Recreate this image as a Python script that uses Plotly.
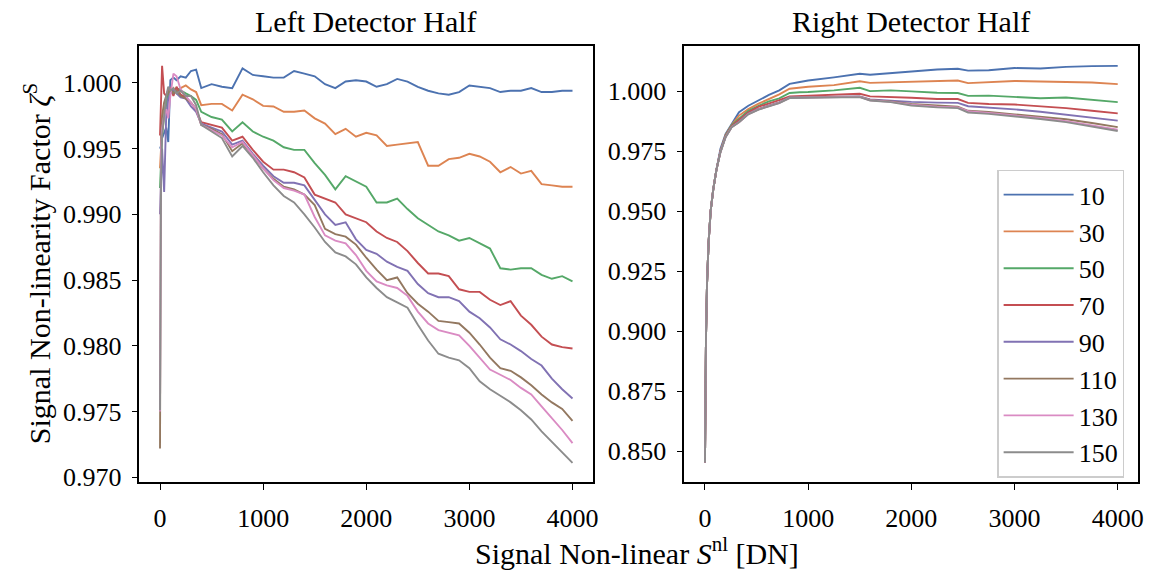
import plotly.graph_objects as go

# ---------------- data ----------------
SERIES_NAMES = ["10", "30", "50", "70", "90", "110", "130", "150"]
COLORS = ["#4C72B0", "#DD8452", "#55A868", "#C44E52", "#8172B3", "#937860", "#DA8BC3", "#8C8C8C"]

LEFT_X = [0, 10, 20, 40, 60, 80, 100, 130, 160, 200, 250, 300, 350, 400,
          500, 600, 700, 800, 900, 1000, 1100, 1200, 1300,
          1400, 1500, 1600, 1700, 1800, 1900, 2000, 2100, 2200, 2300, 2400, 2500, 2600, 2700,
          2800, 2900, 3000, 3100, 3200, 3300, 3400, 3500, 3600, 3700, 3800, 3900, 4000]

LEFT_10 = [0.9950, 0.9952, 0.9958, 0.9962, 0.9966, 0.9955, 1.0002, 1.0004, 1.0002, 1.0005, 1.0004, 1.0009, 1.0010, 0.9996,
           0.9999, 0.9997, 0.9996, 1.0011, 1.0006, 1.0005, 1.0004, 1.0004, 1.0009,
           1.0007, 1.0005, 0.9999, 0.9996, 1.0001, 1.0002, 1.0001, 0.9997, 0.9999, 1.0003, 1.0001, 0.9997, 0.9994, 0.9992,
           0.9991, 0.9993, 0.9998, 0.9997, 0.9996, 0.9993, 0.9994, 0.9994, 0.9996, 0.9993, 0.9993, 0.9994, 0.9994]
LEFT_30 = [0.9935, 0.9950, 0.9965, 0.9978, 0.9985, 0.9990, 0.9993, 0.9996, 0.9993, 0.9996, 0.9998, 0.9995, 0.9993, 0.9983,
           0.9984, 0.9984, 0.9979, 0.9991, 0.99875, 0.99825, 0.9982, 0.9978, 0.9978,
           0.9979, 0.9973, 0.9969, 0.9961, 0.9965, 0.9959, 0.9962, 0.9960, 0.9952, 0.9953, 0.9954, 0.9955, 0.9937, 0.9937,
           0.9942, 0.9943, 0.9946, 0.9944, 0.9940, 0.9932, 0.9936, 0.9931, 0.9933, 0.9923, 0.9922, 0.9921, 0.9921]
LEFT_50 = [0.9920, 0.9945, 0.9960, 0.9975, 0.9985, 0.9992, 0.9995, 0.9993, 0.9996, 0.9994, 0.9992, 0.9990, 0.9987, 0.9978,
           0.9974, 0.9972, 0.9963, 0.9970, 0.9963, 0.9959, 0.9956, 0.9951, 0.9949,
           0.9949, 0.9939, 0.9930, 0.9919, 0.9929, 0.9925, 0.9921, 0.9909, 0.9909, 0.9912, 0.9904, 0.9897, 0.9892, 0.9887,
           0.9884, 0.9880, 0.9882, 0.9878, 0.9874, 0.9859, 0.9858, 0.9859, 0.9859, 0.9854, 0.9851, 0.9853, 0.9849]
LEFT_70 = [0.9960, 0.9990, 1.0013, 0.9992, 0.9990, 0.9995, 0.9996, 0.9990, 0.9997, 0.9991, 0.9989, 0.9985, 0.9980, 0.9970,
           0.9968, 0.9966, 0.9956, 0.9959, 0.9949, 0.9940, 0.9934, 0.9934, 0.9932,
           0.9928, 0.9915, 0.9912, 0.9909, 0.9900, 0.9897, 0.9894, 0.9887, 0.9882, 0.9879, 0.9872, 0.9863, 0.9855, 0.9855,
           0.9853, 0.9843, 0.9841, 0.9841, 0.9835, 0.9831, 0.9834, 0.9823, 0.9816, 0.9807, 0.9801, 0.9799, 0.9798]
LEFT_90 = [0.9900, 0.9930, 0.9950, 0.9917, 0.9975, 0.9988, 0.9992, 0.9995, 0.9992, 0.9989, 0.9988, 0.9982, 0.9978, 0.9969,
           0.9966, 0.9963, 0.9953, 0.9956, 0.9946, 0.9937, 0.9929, 0.9924, 0.9924,
           0.9922, 0.9911, 0.9900, 0.9892, 0.9894, 0.9881, 0.9873, 0.9870, 0.9864, 0.9860, 0.9857, 0.9847, 0.9840, 0.9837,
           0.9837, 0.9834, 0.9826, 0.9821, 0.9814, 0.9805, 0.9801, 0.9796, 0.9790, 0.9785, 0.9775, 0.9767, 0.9760]
LEFT_110 = [0.9722, 0.9960, 0.9975, 0.9985, 0.9990, 0.9993, 0.9995, 0.9992, 0.9994, 0.9990, 0.9988, 0.9985, 0.9980, 0.9968,
            0.9965, 0.9961, 0.9948, 0.9954, 0.9945, 0.9935, 0.9927, 0.9921, 0.9919,
            0.9915, 0.9907, 0.9889, 0.9885, 0.9883, 0.9877, 0.9867, 0.9858, 0.9850, 0.9852, 0.9840, 0.9832, 0.9826, 0.9819,
            0.9818, 0.9817, 0.9810, 0.9801, 0.9791, 0.9783, 0.9781, 0.9776, 0.9770, 0.9763, 0.9757, 0.9752, 0.9743]
LEFT_130 = [0.9750, 0.9950, 0.9965, 0.9975, 0.9980, 0.9973, 0.9990, 1.0007, 1.0005, 0.9995, 0.9990, 0.9985, 0.9980, 0.9968,
            0.9964, 0.9960, 0.9951, 0.9955, 0.9945, 0.9935, 0.9926, 0.9920, 0.9918,
            0.9915, 0.9898, 0.9884, 0.9880, 0.9878, 0.9869, 0.9857, 0.9849, 0.9846, 0.9844, 0.9838, 0.9826, 0.9817, 0.9812,
            0.9810, 0.9808, 0.9800, 0.9791, 0.9782, 0.9778, 0.9774, 0.9768, 0.9763, 0.9754, 0.9745, 0.9736, 0.9726]
LEFT_150 = [0.9751, 0.9930, 0.9960, 0.9975, 0.9990, 0.9997, 0.9994, 0.9996, 0.9992, 0.9994, 0.9990, 0.9990, 0.9983, 0.9968,
            0.9963, 0.9958, 0.9944, 0.9952, 0.9943, 0.9932, 0.9922, 0.9914, 0.9909,
            0.9900, 0.9890, 0.9879, 0.9871, 0.9868, 0.9862, 0.9852, 0.9844, 0.9837, 0.9833, 0.9829, 0.9816, 0.9804, 0.9794,
            0.9791, 0.9789, 0.9783, 0.9773, 0.9767, 0.9762, 0.9757, 0.9751, 0.9744, 0.9735, 0.9727, 0.9719, 0.9711]

RIGHT_X = [0, 4, 10, 20, 35, 55, 80, 110, 150, 200, 260, 330, 420, 520, 620, 720, 820, 920, 1000,
           1250, 1500, 1600, 1800, 2000, 2250, 2450, 2550, 2750, 3000, 3250, 3500, 3750, 4000]

RIGHT_10 = [0.8454, 0.875, 0.898, 0.920, 0.937, 0.950, 0.959, 0.967, 0.9760, 0.9822, 0.9865, 0.9912, 0.9939, 0.9963, 0.9984,
            1.0003, 1.0030, 1.0038, 1.0044, 1.0057, 1.0072, 1.0068, 1.0075, 1.0082, 1.0090, 1.0093, 1.0085, 1.0087,
            1.0096, 1.0094, 1.0101, 1.0104, 1.0105]
RIGHT_30 = [0.8454, 0.875, 0.898, 0.920, 0.937, 0.950, 0.959, 0.967, 0.9752, 0.9818, 0.9860, 0.9898, 0.9925, 0.9948, 0.9966,
            0.9986, 1.0010, 1.0015, 1.0018, 1.0025, 1.0041, 1.0034, 1.0037, 1.0038, 1.0042, 1.0044, 1.0033, 1.0038,
            1.0042, 1.0040, 1.0038, 1.0036, 1.0029]
RIGHT_50 = [0.8454, 0.875, 0.898, 0.920, 0.937, 0.950, 0.959, 0.967, 0.9750, 0.9815, 0.9858, 0.9885, 0.9918, 0.9939, 0.9957,
            0.9970, 0.9992, 0.9995, 0.9996, 1.0003, 1.0014, 1.0000, 1.0003, 0.9999, 0.9993, 0.9992, 0.9980, 0.9981,
            0.9977, 0.9970, 0.9973, 0.9963, 0.9954]
RIGHT_70 = [0.8454, 0.875, 0.898, 0.920, 0.937, 0.950, 0.959, 0.967, 0.9750, 0.9813, 0.9855, 0.9880, 0.9912, 0.9935, 0.9948,
            0.9962, 0.9978, 0.9980, 0.9981, 0.9984, 0.9989, 0.9978, 0.9976, 0.9972, 0.9967, 0.9967, 0.9951, 0.9946,
            0.9944, 0.9937, 0.9929, 0.9918, 0.9907]
RIGHT_90 = [0.8454, 0.875, 0.898, 0.920, 0.937, 0.950, 0.959, 0.967, 0.9748, 0.9810, 0.9852, 0.9872, 0.9906, 0.9926, 0.9938,
            0.9953, 0.9974, 0.9975, 0.9974, 0.9977, 0.9978, 0.9965, 0.9959, 0.9955, 0.9952, 0.9951, 0.9937, 0.9932,
            0.9924, 0.9914, 0.9902, 0.9888, 0.9877]
RIGHT_110 = [0.8454, 0.875, 0.898, 0.920, 0.937, 0.950, 0.959, 0.967, 0.9747, 0.9810, 0.9852, 0.9871, 0.9905, 0.9925, 0.9937,
             0.9952, 0.9973, 0.9974, 0.9973, 0.9976, 0.9977, 0.9963, 0.9957, 0.9946, 0.9939, 0.9935, 0.9918, 0.9913,
             0.9903, 0.9894, 0.9883, 0.9867, 0.9850]
RIGHT_130 = [0.8454, 0.875, 0.898, 0.920, 0.937, 0.950, 0.959, 0.967, 0.9746, 0.9809, 0.9851, 0.9870, 0.9904, 0.9924, 0.9936,
             0.9951, 0.9972, 0.9973, 0.9972, 0.9975, 0.9976, 0.9962, 0.9955, 0.9943, 0.9935, 0.9932, 0.9916, 0.9909,
             0.9899, 0.9888, 0.9875, 0.9858, 0.9839]
RIGHT_150 = [0.8454, 0.875, 0.898, 0.920, 0.937, 0.950, 0.959, 0.967, 0.9745, 0.9808, 0.9850, 0.9870, 0.9903, 0.9923, 0.9935,
             0.9950, 0.9971, 0.9972, 0.9971, 0.9974, 0.9975, 0.9961, 0.9954, 0.9940, 0.9932, 0.9929, 0.9911, 0.9905,
             0.9895, 0.9884, 0.9871, 0.9854, 0.9834]

X_TICKS = [0, 1000, 2000, 3000, 4000]
LEFT_Y_TICKS = [0.970, 0.975, 0.980, 0.985, 0.990, 0.995, 1.000]
RIGHT_Y_TICKS = [0.850, 0.875, 0.900, 0.925, 0.950, 0.975, 1.000]

LEFT_SERIES = [LEFT_10, LEFT_30, LEFT_50, LEFT_70, LEFT_90, LEFT_110, LEFT_130, LEFT_150]
RIGHT_SERIES = [RIGHT_10, RIGHT_30, RIGHT_50, RIGHT_70, RIGHT_90, RIGHT_110, RIGHT_130, RIGHT_150]

# ---------------- figure ----------------
W, H = 1158, 577
FONT = "Liberation Serif"
FS = 26          # tick labels / legend
FS_LABEL = 30    # titles and axis labels

fig = go.Figure()
for name, col, ly, ry in zip(SERIES_NAMES, COLORS, LEFT_SERIES, RIGHT_SERIES):
    fig.add_trace(go.Scatter(x=LEFT_X, y=ly, mode="lines", name=name, legendgroup=name,
                             showlegend=False, line=dict(color=col, width=1.9),
                             xaxis="x", yaxis="y"))
    fig.add_trace(go.Scatter(x=RIGHT_X, y=ry, mode="lines", name=name, legendgroup=name,
                             showlegend=True, line=dict(color=col, width=1.9),
                             xaxis="x2", yaxis="y2"))

def px_x(p):
    return p / W

def px_y(p):
    return 1 - p / H

axis_common = dict(showline=True, mirror=True, linecolor="black", linewidth=1.6,
                   ticks="outside", ticklen=6, tickwidth=1.4, tickcolor="black",
                   showgrid=False, zeroline=False,
                   tickfont=dict(family=FONT, size=FS, color="black"))

fig.update_layout(
    width=W, height=H,
    margin=dict(l=0, r=0, t=0, b=0),
    paper_bgcolor="white", plot_bgcolor="white",
    font=dict(family=FONT, size=FS, color="black"),
    xaxis=dict(domain=[px_x(140), px_x(595.7)], range=[-200, 4200], tickvals=X_TICKS,
               anchor="y", ticklabelstandoff=6, **axis_common),
    yaxis=dict(domain=[px_y(490.7), px_y(46.7)], range=[0.96963, 1.00281],
               tickvals=LEFT_Y_TICKS, tickformat=".3f", anchor="x", ticklabelstandoff=5,
               **axis_common),
    xaxis2=dict(domain=[px_x(687.3), px_x(1143.3)], range=[-200, 4200], tickvals=X_TICKS,
                anchor="y2", ticklabelstandoff=6, **axis_common),
    yaxis2=dict(domain=[px_y(490.7), px_y(46.7)], range=[0.83715, 1.01882],
                tickvals=RIGHT_Y_TICKS, tickformat=".3f", anchor="x2", ticklabelstandoff=5,
                **axis_common),
    legend=dict(x=px_x(1129), y=px_y(172.7), xanchor="right", yanchor="top",
                bgcolor="rgba(255,255,255,0.8)", bordercolor="#cccccc", borderwidth=1.5,
                font=dict(family=FONT, size=FS, color="black"),
                tracegroupgap=0, itemwidth=70),
    showlegend=True,
)

annots = [
    dict(text="Left Detector Half", x=px_x(368), y=px_y(22)),
    dict(text="Right Detector Half", x=px_x(915), y=px_y(22)),
    dict(text="Signal Non-linear <i>S</i><sup>nl</sup> [DN]", x=px_x(640), y=px_y(561)),
    dict(text="Signal Non-linearity Factor <i>ζ</i><sup>S</sup>", x=px_x(38), y=px_y(268), textangle=-90),
]
for a in annots:
    fig.add_annotation(xref="paper", yref="paper", showarrow=False,
                       xanchor="center", yanchor="middle",
                       font=dict(family=FONT, size=FS_LABEL, color="black"), **a)

fig.write_html("out.html")
